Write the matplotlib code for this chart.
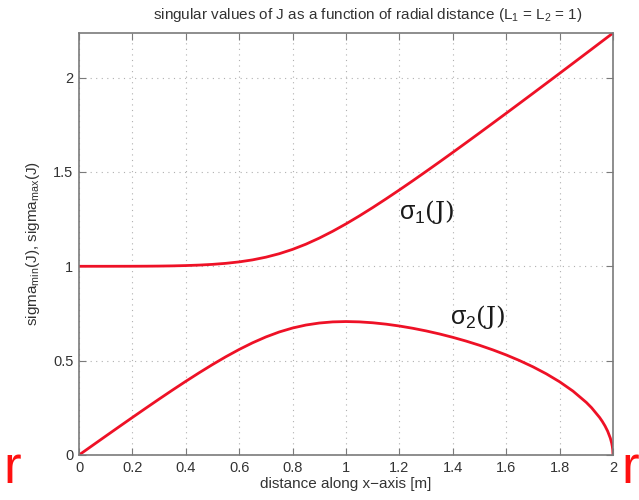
import matplotlib
matplotlib.use("Agg")
import matplotlib.pyplot as plt

# distance along x-axis [m]
r_vals = [0.0, 0.05, 0.1, 0.15, 0.2, 0.25, 0.3, 0.35, 0.4, 0.45, 0.5, 0.55, 0.6, 0.65, 0.7, 0.75,
          0.8, 0.85, 0.9, 0.95, 1.0, 1.05, 1.1, 1.15, 1.2, 1.25, 1.3, 1.35, 1.4, 1.45, 1.5,
          1.55, 1.6, 1.65, 1.7, 1.75, 1.8, 1.85, 1.9, 1.92, 1.95, 1.96, 1.97, 1.98, 1.99,
          1.995, 1.9975, 1.999, 2.0]
# largest singular value
sigma_max = [1.0000, 1.0000, 1.0000, 1.0001, 1.0002, 1.0005, 1.0011, 1.0021, 1.0038, 1.0063, 1.0101,
             1.0156, 1.0233, 1.0339, 1.0482, 1.0666, 1.0896, 1.1172, 1.1494, 1.1854, 1.2247,
             1.2668, 1.3111, 1.3572, 1.4046, 1.4531, 1.5026, 1.5527, 1.6035, 1.6548, 1.7064,
             1.7585, 1.8108, 1.8634, 1.9161, 1.9691, 2.0222, 2.0755, 2.1289, 2.1503, 2.1825,
             2.1932, 2.2039, 2.2146, 2.2253, 2.2307, 2.2334, 2.2350, 2.2361]
# smallest singular value
sigma_min = [0.0000, 0.0500, 0.0999, 0.1496, 0.1990, 0.2479, 0.2963, 0.3439, 0.3905, 0.4357, 0.4793,
             0.5207, 0.5593, 0.5945, 0.6256, 0.6519, 0.6729, 0.6887, 0.6993, 0.7053, 0.7071,
             0.7054, 0.7007, 0.6933, 0.6835, 0.6715, 0.6575, 0.6415, 0.6235, 0.6035, 0.5814,
             0.5570, 0.5302, 0.5004, 0.4674, 0.4303, 0.3880, 0.3387, 0.2787, 0.2500, 0.1985,
             0.1778, 0.1542, 0.1261, 0.0893, 0.0632, 0.0447, 0.0283, 0.0000]

xticks = [0, 0.2, 0.4, 0.6, 0.8, 1, 1.2, 1.4, 1.6, 1.8, 2]
xticklabels = ["0", "0.2", "0.4", "0.6", "0.8", "1", "1.2", "1.4", "1.6", "1.8", "2"]
yticks = [0, 0.5, 1, 1.5, 2]
yticklabels = ["0", "0.5", "1", "1.5", "2"]

plt.rcParams['font.family'] = ['Liberation Sans', 'DejaVu Sans']
plt.rcParams['mathtext.fontset'] = 'custom'
plt.rcParams['mathtext.rm'] = 'Liberation Sans'
plt.rcParams['mathtext.it'] = 'Liberation Sans'

fig = plt.figure(figsize=(6.39, 5.00), dpi=100)
ax = fig.add_axes([79/639, 45/500, (613-79)/639, (455-33)/500])

red = '#ee1126'
ax.plot(r_vals, sigma_max, color=red, lw=2.0, solid_capstyle='round', solid_joinstyle='round')
ax.plot(r_vals, sigma_min, color=red, lw=2.0, solid_capstyle='round', solid_joinstyle='round')

ax.set_xlim(0, 2)
ax.set_ylim(0, 2.2361)
ax.set_xticks(xticks)
ax.set_xticklabels(xticklabels)
ax.set_yticks(yticks)
ax.set_yticklabels(yticklabels)

gray = '#7a7a7a'
for s in ax.spines.values():
    s.set_color(gray)
    s.set_linewidth(1.2)
ax.tick_params(direction='in', length=5, color=gray, labelcolor='#333333', labelsize=10.5,
               top=True, right=True, pad=4)
ax.grid(True, linestyle=(0, (1, 4)), color='#b0b0b0', linewidth=0.8)

ax.set_title('singular values of J as a function of radial distance (L$_1$ = L$_2$ = 1)',
             fontsize=11, color='#333333', pad=10, x=0.54)
ax.set_xlabel('distance along x\u2212axis [m]', fontsize=11, color='#333333', labelpad=2)
ax.set_ylabel('sigma$_{min}$(J), sigma$_{max}$(J)', fontsize=11, color='#333333', labelpad=8)

ax.text(1.2, 1.29, r'$\sigma_1$(J)', fontsize=18, color='#1a1a1a', family='DejaVu Serif',
        va='center', ha='left')
ax.text(1.39, 0.73, r'$\sigma_2$(J)', fontsize=18, color='#1a1a1a', family='DejaVu Serif',
        va='center', ha='left')

fig.text(3/639, 1 - 483/500, 'r', fontsize=38, color='#ff1010', ha='left', va='baseline')
fig.text(621/639, 1 - 483/500, 'r', fontsize=38, color='#ff1010', ha='left', va='baseline')

fig.savefig('out.png', dpi=100)
